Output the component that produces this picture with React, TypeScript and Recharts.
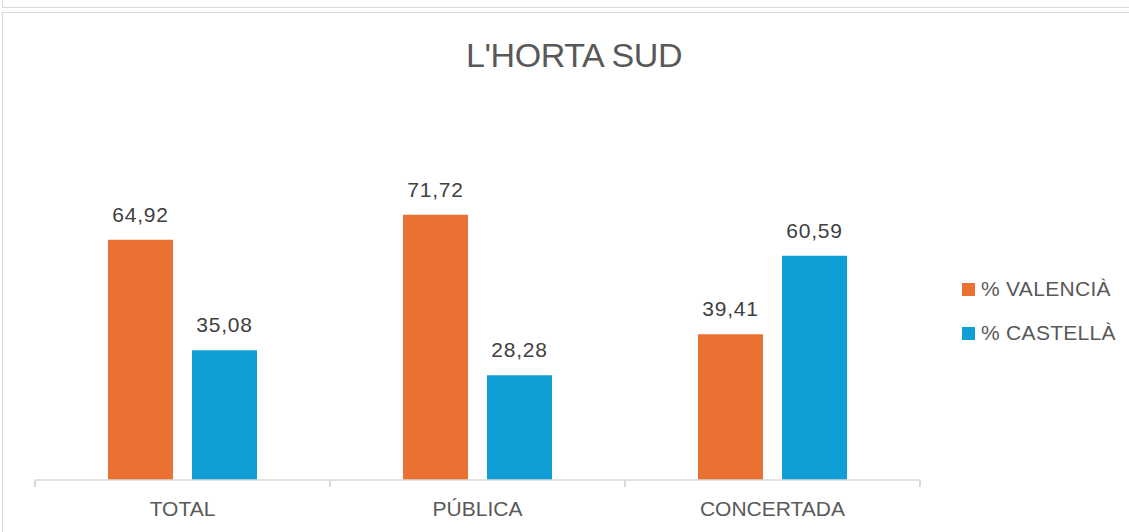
import { BarChart, Bar, XAxis, YAxis, LabelList } from "recharts";

const categories = ["TOTAL", "PÚBLICA", "CONCERTADA"];
const valenciaValues = [64.92, 71.72, 39.41];
const castellaValues = [35.08, 28.28, 60.59];
const seriesNames = ["% VALENCIÀ", "% CASTELLÀ"];
const seriesColors = ["#E97132", "#0F9ED5"];

const data = categories.map((c, i) => ({
  name: c,
  valencia: valenciaValues[i],
  castella: castellaValues[i],
}));

const FONT = "'Liberation Sans', Arial, sans-serif";

const fmt = (v: any) => Number(v).toFixed(2).replace(".", ",");

export default function App() {
  return (
    <div
      style={{
        position: "absolute",
        left: 0,
        top: 0,
        width: 1129,
        height: 532,
        background: "#fff",
        overflow: "hidden",
        fontFamily: FONT,
      }}
    >
      {/* box above, only its bottom edge is visible */}
      <div
        style={{
          position: "absolute",
          left: 2,
          top: -10,
          width: 1140,
          height: 16,
          border: "1.5px solid #d9d9d9",
        }}
      />
      {/* chart frame */}
      <div
        style={{
          position: "absolute",
          left: 2,
          top: 12,
          width: 1140,
          height: 540,
          border: "1.5px solid #d9d9d9",
        }}
      />
      <div
        style={{
          position: "absolute",
          left: 0,
          top: 36,
          width: 1148,
          textAlign: "center",
          fontSize: 34,
          color: "#595959",
          letterSpacing: -0.4,
        }}
      >
        L'HORTA SUD
      </div>
      <div style={{ position: "absolute", left: 0, top: 0 }}>
        <BarChart
          width={1129}
          height={532}
          data={data}
          margin={{ top: 184, right: 209, bottom: 0, left: 35 }}
          barGap={19}
          barSize={65}
        >
          <XAxis
            dataKey="name"
            axisLine={{ stroke: "#d9d9d9", strokeWidth: 1.5 }}
            tickLine={false}
            tick={{ fill: "#595959", fontSize: 21, fontFamily: FONT }}
            tickMargin={15}
            height={52}
          />
          <YAxis hide domain={[0, 80]} />
          <Bar dataKey="valencia" fill={seriesColors[0]} isAnimationActive={false}>
            <LabelList
              dataKey="valencia"
              position="top"
              offset={18}
              formatter={fmt}
              style={{ fill: "#404040", fontSize: 21, fontFamily: FONT, letterSpacing: 0.8 }}
            />
          </Bar>
          <Bar dataKey="castella" fill={seriesColors[1]} isAnimationActive={false}>
            <LabelList
              dataKey="castella"
              position="top"
              offset={18}
              formatter={fmt}
              style={{ fill: "#404040", fontSize: 21, fontFamily: FONT, letterSpacing: 0.8 }}
            />
          </Bar>
        </BarChart>
      </div>
      {/* category separators on the axis */}
      {[35, 330, 625, 920].map((x) => (
        <div
          key={x}
          style={{
            position: "absolute",
            left: x - 0.75,
            top: 480,
            width: 1.5,
            height: 7,
            background: "#d9d9d9",
          }}
        />
      ))}
      <div style={{ position: "absolute", left: 962, top: 277 }}>
        {seriesNames.map((n, i) => (
          <div
            key={n}
            style={{
              display: "flex",
              alignItems: "center",
              height: 24,
              marginBottom: 20,
              fontSize: 21,
              letterSpacing: 0.3,
              color: "#595959",
            }}
          >
            <span
              style={{
                display: "inline-block",
                width: 13,
                height: 13,
                background: seriesColors[i],
                marginRight: 6,
              }}
            />
            {n}
          </div>
        ))}
      </div>
    </div>
  );
}
